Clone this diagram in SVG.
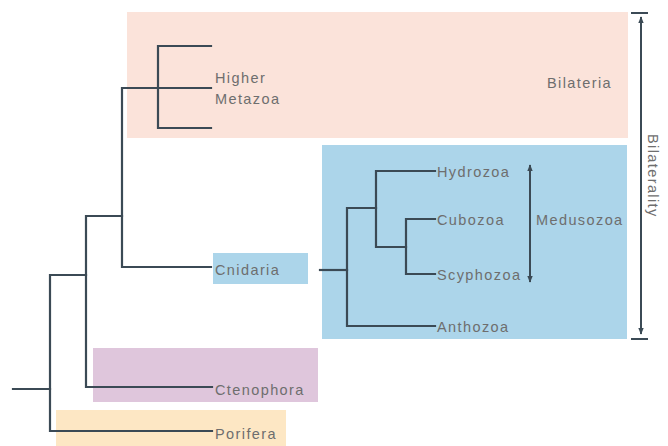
<svg xmlns="http://www.w3.org/2000/svg" width="668" height="446" viewBox="0 0 668 446">
<defs>
<marker id="ah" viewBox="0 0 10 10" refX="9" refY="5" markerWidth="7" markerHeight="7" orient="auto-start-reverse" markerUnits="userSpaceOnUse">
<path d="M0,1 L10,5 L0,9 z" fill="#3b4a55"/>
</marker>
<style>
.lbl{font-family:"Liberation Sans",Arial,sans-serif;font-size:14.5px;letter-spacing:1.4px;fill:#6e6e6e}
.br{fill:none;stroke:#3b4a55;stroke-width:2.2;stroke-linecap:square;stroke-linejoin:miter}
.ar{fill:none;stroke:#3b4a55;stroke-width:2}
</style>
</defs>
<rect width="668" height="446" fill="#ffffff"/>
<g id="bilateria">
<rect x="127" y="12" width="501" height="126" fill="#fbe3da"/>
<text class="lbl" x="612" y="88" text-anchor="end">Bilateria</text>
</g>
<g id="cnidaria-box">
<rect x="322" y="145" width="305" height="194" fill="#acd5ea"/>
</g>
<g id="ctenophora">
<rect x="93" y="348" width="225" height="54" fill="#dfc6dc"/>
<text class="lbl" x="215" y="395">Ctenophora</text>
</g>
<g id="porifera">
<rect x="56" y="410" width="230" height="36" fill="#fde7c4"/>
<text class="lbl" x="215" y="439">Porifera</text>
</g>
<g id="cnidaria">
<rect x="213" y="253" width="95" height="31" fill="#acd5ea"/>
<text class="lbl" x="215" y="275">Cnidaria</text>
</g>
<g id="higher-metazoa">
<text class="lbl" x="215" y="83">Higher</text>
<text class="lbl" x="215" y="104">Metazoa</text>
</g>
<g id="hydrozoa"><text class="lbl" x="437" y="177">Hydrozoa</text></g>
<g id="cubozoa"><text class="lbl" x="437" y="225">Cubozoa</text></g>
<g id="scyphozoa"><text class="lbl" x="437" y="280">Scyphozoa</text></g>
<g id="anthozoa"><text class="lbl" x="437" y="332">Anthozoa</text></g>
<g id="medusozoa">
<text class="lbl" x="536" y="225">Medusozoa</text>
</g>
<g id="bilaterality">
<text class="lbl" transform="translate(648,134) rotate(90)">Bilaterality</text>
</g>
<g id="connectors">
<path class="br" d="M13,389 H50"/>
<path class="br" d="M86,275 H50 V431 H212"/>
<path class="br" d="M122,216 H86 V387 H212"/>
<path class="br" d="M211,88 H122 V267 H211"/>
<path class="br" d="M211,46 H158 V128 H211"/>
<path class="br" d="M320,270 H347"/>
<path class="br" d="M376,208 H347 V326 H435"/>
<path class="br" d="M435,171 H376 V247 H406"/>
<path class="br" d="M435,219 H406 V274 H435"/>
<path class="ar" d="M530,165 V282" marker-start="url(#ah)" marker-end="url(#ah)"/>
<path class="ar" d="M641,17 V334" marker-start="url(#ah)" marker-end="url(#ah)"/>
<path d="M631,13 H648 M631,339 H648" stroke="#3b4a55" stroke-width="2" fill="none"/>
</g>
</svg>
